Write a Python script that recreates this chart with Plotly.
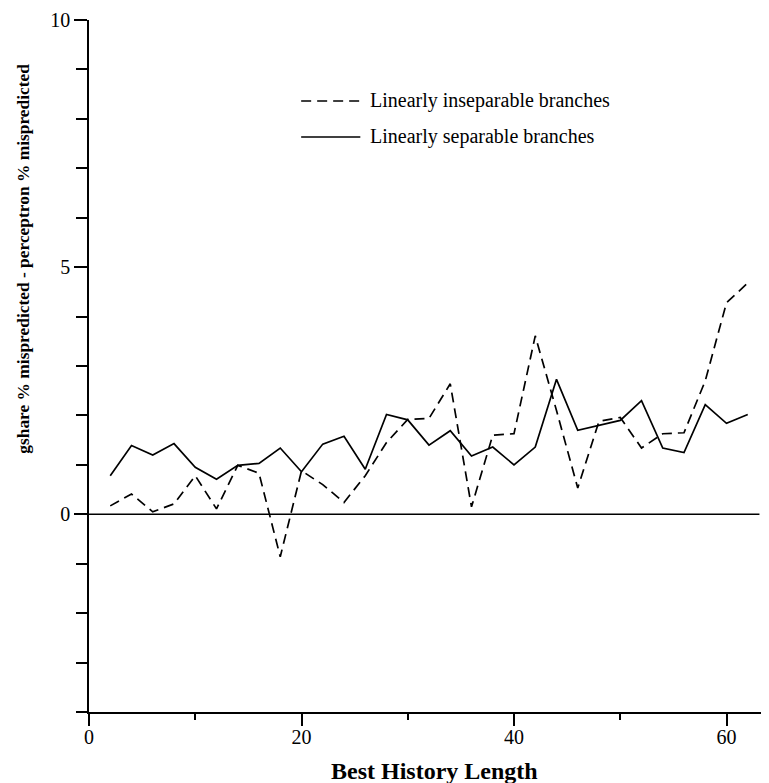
import plotly.graph_objects as go

history_length = [2, 4, 6, 8, 10, 12, 14, 16, 18, 20, 22, 24, 26, 28, 30, 32,
                  34, 36, 38, 40, 42, 44, 46, 48, 50, 52, 54, 56, 58, 60, 62]
inseparable = [0.17, 0.41, 0.05, 0.21, 0.78, 0.11, 0.99, 0.83, -0.86, 0.88, 0.60,
               0.24, 0.78, 1.45, 1.92, 1.94, 2.64, 0.15, 1.60, 1.63, 3.61, 2.10,
               0.53, 1.88, 1.96, 1.34, 1.63, 1.65, 2.70, 4.28, 4.68]
separable = [0.78, 1.39, 1.20, 1.43, 0.95, 0.71, 0.99, 1.03, 1.34, 0.86, 1.42,
             1.58, 0.91, 2.02, 1.91, 1.40, 1.69, 1.18, 1.36, 1.00, 1.36, 2.73,
             1.70, 1.80, 1.90, 2.30, 1.34, 1.25, 2.22, 1.84, 2.02]
series_names = ["Linearly inseparable branches", "Linearly separable branches"]
x_ticks = [0, 20, 40, 60]
y_ticks = [0, 5, 10]

FONT = "Liberation Serif, Times New Roman, serif"
DASH = "10px,6px"

fig = go.Figure()
fig.add_trace(go.Scatter(x=history_length, y=inseparable, mode="lines",
                         name=series_names[0],
                         line=dict(color="black", width=1.7, dash=DASH)))
fig.add_trace(go.Scatter(x=history_length, y=separable, mode="lines",
                         name=series_names[1],
                         line=dict(color="black", width=1.7)))

# zero reference line
fig.add_shape(type="line", xref="x", yref="y", x0=0, x1=63.1, y0=0, y1=0,
              line=dict(color="black", width=1.6), layer="below")

# legend drawn manually (long line samples)
leg_rows = [0.883, 0.831]
for name, yy, dash in zip(series_names, leg_rows, [DASH, None]):
    fig.add_shape(type="line", xref="paper", yref="paper",
                  x0=0.312, x1=0.399, y0=yy, y1=yy,
                  line=dict(color="black", width=1.6, dash=dash))
    fig.add_annotation(xref="paper", yref="paper", x=0.4105, y=yy,
                       xanchor="left", yanchor="middle", showarrow=False,
                       text=name, font=dict(family=FONT, size=20, color="black"))

# axis titles
fig.add_annotation(xref="paper", yref="paper", x=0.5075, y=-0.0853,
                   xanchor="center", yanchor="middle", showarrow=False,
                   text="<b>Best History Length</b>",
                   font=dict(family=FONT, size=24, color="black"))
fig.add_annotation(xref="paper", yref="paper", x=-0.0975, y=0.6546,
                   xanchor="center", yanchor="middle", showarrow=False,
                   textangle=-90,
                   text="<b>gshare % mispredicted - perceptron % mispredicted</b>",
                   font=dict(family=FONT, size=17.4, color="black"))

# page has an 8px body margin: figure is 761x775 so plot area lands where the reference has it
fig.update_layout(
    width=761, height=775,
    margin=dict(l=81, r=0, t=12, b=71),
    paper_bgcolor="white", plot_bgcolor="white",
    showlegend=False,
    font=dict(family=FONT, size=20, color="black"),
)
fig.update_xaxes(range=[0, 64], showgrid=False, zeroline=False,
                 showline=True, linecolor="black", linewidth=1.5,
                 ticks="outside", ticklen=12, tickwidth=1.5, tickcolor="black",
                 tickvals=x_ticks, ticklabelstandoff=-6,
                 minor=dict(dtick=10, tick0=0, ticks="outside", ticklen=6,
                            tickwidth=1.5, tickcolor="black", showgrid=False),
                 tickfont=dict(family=FONT, size=20, color="black"))
fig.update_yaxes(range=[-4, 10], showgrid=False, zeroline=False,
                 showline=True, linecolor="black", linewidth=1.5,
                 ticks="outside", ticklen=13, tickwidth=1.5, tickcolor="black",
                 tickvals=y_ticks,
                 minor=dict(dtick=1, tick0=0, ticks="outside", ticklen=11,
                            tickwidth=1.5, tickcolor="black", showgrid=False),
                 tickfont=dict(family=FONT, size=20, color="black"))

fig.write_html("out.html")
